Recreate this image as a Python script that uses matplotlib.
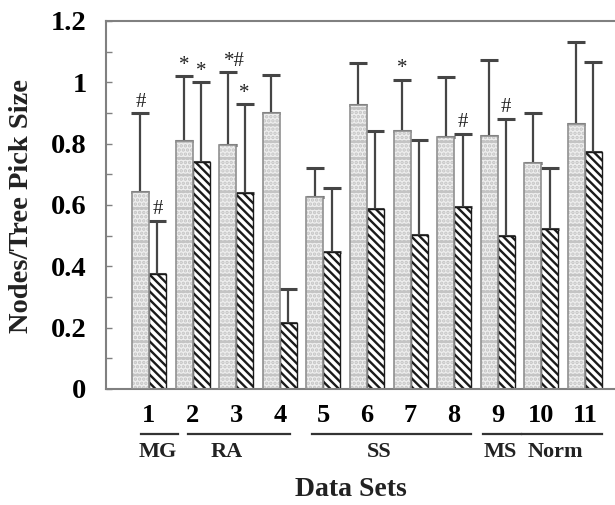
import numpy as np
import matplotlib.pyplot as plt
import matplotlib.transforms as mtransforms

# data
sets = [1, 2, 3, 4, 5, 6, 7, 8, 9, 10, 11]
light_vals = [0.641, 0.808, 0.797, 0.901, 0.625, 0.925, 0.842, 0.823, 0.825, 0.736, 0.865]
light_tops = [0.899, 1.020, 1.033, 1.024, 0.722, 1.063, 1.008, 1.018, 1.073, 0.899, 1.131]
hatch_vals = [0.375, 0.740, 0.639, 0.216, 0.448, 0.586, 0.503, 0.593, 0.499, 0.521, 0.772]
hatch_tops = [0.549, 1.000, 0.929, 0.326, 0.654, 0.840, 0.812, 0.832, 0.881, 0.722, 1.067]
light_marks = ['#', '*', '*#', '', '', '', '*', '', '', '', '']
hatch_marks = ['#', '*', '*', '', '', '', '', '#', '#', '', '']
groups = ['MG', 'RA', 'SS', 'MS', 'Norm']
group_spans = [(0.82, 1.67), (1.90, 4.24), (4.74, 8.39), (8.66, 9.53), (9.55, 11.40)]
group_label_x = [1.19, 2.79, 6.27, 9.05, 10.33]
yticks = [0, 0.2, 0.4, 0.6, 0.8, 1.0, 1.2]
ytick_labels = ['0', '0.2', '0.4', '0.6', '0.8', '1', '1.2']

plt.rcParams['font.family'] = ['Liberation Serif', 'DejaVu Serif']
plt.rcParams['hatch.linewidth'] = 1.7

fig = plt.figure(figsize=(6.15, 5.05), dpi=100)
ax = fig.add_axes([106/615, 1-389/505, 509/615, 368/505])

x = np.array(sets, dtype=float)
w = 0.39
xl = x - w/2
xh = x + w/2
light_vals = np.array(light_vals)
hatch_vals = np.array(hatch_vals)

# light dotted bars: pattern then outline
ax.bar(xl, light_vals, w, facecolor='#eeeeee', edgecolor='#c4c4c4', hatch='-....', linewidth=0, zorder=2)
ax.bar(xl, light_vals, w, fill=False, edgecolor='#909090', linewidth=1.2, zorder=3)
# dark striped bars
ax.bar(xh, hatch_vals, w, facecolor='white', edgecolor='#1a1a1a', hatch='\\\\\\\\', linewidth=1.0, zorder=2)

# upper error bars only
err_kw = dict(fmt='none', ecolor='#454545', elinewidth=1.6, capsize=6.5, capthick=2.2, zorder=1)
ax.errorbar(xl, light_vals, yerr=[np.zeros(len(sets)), np.array(light_tops) - light_vals], **err_kw)
ax.errorbar(xh, hatch_vals, yerr=[np.zeros(len(sets)), np.array(hatch_tops) - hatch_vals], **err_kw)

for xs, tops, marks in [(xl, light_tops, light_marks), (xh, hatch_tops, hatch_marks)]:
    for xi, t, m in zip(xs, tops, marks):
        if m:
            ax.annotate(m, (xi, t), xytext=(5 if len(m) > 1 else 0, 1), textcoords='offset points',
                        ha='center', va='bottom', fontsize=15, color='#222222')

ax.set_xlim(0.014, 11.69)
ax.set_ylim(0, 1.2)
ax.set_yticks(yticks)
ax.set_yticklabels(ytick_labels, fontsize=20.5, fontweight='bold')
ax.set_yticks(np.arange(0.1, 1.2, 0.2), minor=True)
ax.tick_params(axis='y', which='both', direction='in', length=4, width=1, color='#808080', pad=14)
ax.set_xticks(x)
ax.set_xticklabels([str(s) for s in sets], fontsize=19, fontweight='bold')
ax.tick_params(axis='x', length=0, pad=11)

for side in ['left', 'bottom', 'top']:
    ax.spines[side].set_color('#808080')
    ax.spines[side].set_linewidth(1.5)
ax.spines['right'].set_visible(False)

trans = mtransforms.blended_transform_factory(ax.transData, ax.transAxes)
for name, (a, b), lx in zip(groups, group_spans, group_label_x):
    ax.plot([a, b], [-0.122, -0.122], color='#333333', lw=1.6, transform=trans, clip_on=False)
    ax.text(lx, -0.171, name, transform=trans, ha='center', va='center', fontsize=16,
            fontweight='bold', color='#222222')

fig.text(351/615, 1-490/505, 'Data Sets', ha='center', va='center', fontsize=20, fontweight='bold',
         color='#222222')
fig.text(22/615, 1-206/505, 'Nodes/Tree Pick Size', ha='center', va='center', rotation=90,
         fontsize=20.5, fontweight='bold', color='#222222')

fig.savefig('out.png', dpi=100)
